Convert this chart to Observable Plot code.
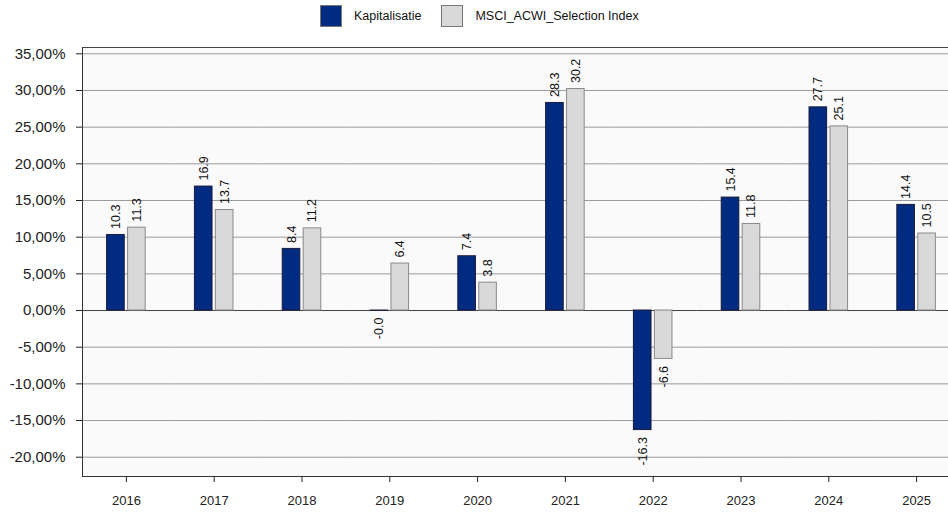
<!DOCTYPE html>
<html>
<head>
<meta charset="utf-8">
<script src="https://cdn.jsdelivr.net/npm/d3@7"></script>
<script src="https://cdn.jsdelivr.net/npm/@observablehq/plot@0.6"></script>
<style>
  html, body { margin: 0; padding: 0; background: #fff; overflow: hidden; width: 948px; height: 513px; }
  #wrap { position: relative; width: 948px; height: 513px; overflow: hidden; }
  #legend { position: absolute; top: 5px; left: 320px; display: flex; align-items: center;
    font-family: "Liberation Sans", Arial, sans-serif; font-size: 12.5px; color: #111; }
  .sw { width: 22px; height: 22px; box-sizing: border-box; border: 1px solid #777; display: inline-block; margin-right: 12px; }
  .item { display: flex; align-items: center; margin-right: 20px; }
  #chart { position: absolute; top: 0; left: 0; width: 960px; }
  #chart svg { max-width: none !important; width: 960px !important; height: 513px !important; }
</style>
</head>
<body>
<div id="wrap">
  <div id="chart"></div>
  <div id="legend"></div>
</div>
<script>
const years = [2016, 2017, 2018, 2019, 2020, 2021, 2022, 2023, 2024, 2025];
const seriesNames = ["Kapitalisatie", "MSCI_ACWI_Selection Index"];
const kapitalisatie = [10.3, 16.9, 8.4, -0.02, 7.4, 28.3, -16.3, 15.4, 27.7, 14.4];
const msci = [11.3, 13.7, 11.2, 6.4, 3.8, 30.2, -6.6, 11.8, 25.1, 10.5];
const yTicks = [-20, -15, -10, -5, 0, 5, 10, 15, 20, 25, 30, 35];
const colors = ["#002b80", "#d9d9d9"];

const data = [];
years.forEach((yr, i) => {
  data.push({year: yr, series: seriesNames[0], value: kapitalisatie[i]});
  data.push({year: yr, series: seriesNames[1], value: msci[i]});
});

const fmtTick = d => d.toFixed(2).replace(".", ",") + "%";
const font = "'Liberation Sans', Arial, sans-serif";

const chart = Plot.plot({
  width: 960,
  height: 513,
  marginLeft: 82,
  marginRight: 0,
  marginTop: 47,
  marginBottom: 37,
  style: {fontFamily: font, background: "transparent", color: "#222", maxWidth: "none"},
  fx: {domain: years, padding: 0, round: false, label: null},
  x: {domain: seriesNames, paddingInner: 0.16, paddingOuter: 1.175, round: false, axis: null},
  y: {domain: [-22.63, 35.86], label: null},
  color: {domain: seriesNames, range: colors},
  marks: [
    Plot.frame({fill: "#fafafa", stroke: null}),
    Plot.ruleY(yTicks, {stroke: "#9a9a9a", strokeWidth: 1}),
    Plot.ruleY([0], {stroke: "#444", strokeWidth: 1}),
    Plot.frame({anchor: "top", stroke: "#444"}),
    Plot.frame({anchor: "bottom", stroke: "#333"}),
    Plot.frame({anchor: "left", stroke: "#333", facetAnchor: "left"}),
    Plot.barY(data, {fx: "year", x: "series", y: "value", fill: "series", stroke: d => d.series === seriesNames[0] ? "#1a1a3a" : "#8a8a8a", strokeWidth: 1}),
    Plot.text(data.filter(d => d.value >= 0), {fx: "year", x: "series", y: "value", text: d => d.value.toFixed(1), rotate: -90, textAnchor: "start", dy: -6, fontSize: 12.5, fill: "#111"}),
    Plot.text(data.filter(d => d.value < 0), {fx: "year", x: "series", y: "value", text: d => d.value.toFixed(1), rotate: -90, textAnchor: "end", dy: 7, fontSize: 12.5, fill: "#111"}),
    Plot.axisY({ticks: yTicks, tickFormat: fmtTick, tickSize: 6, tickPadding: 11, fontSize: 15, label: null, anchor: "left"}),
    Plot.axisFx({anchor: "bottom", tickSize: 6, tickPadding: 13, fontSize: 13, label: null, tickFormat: d => String(d)})
  ]
});
document.getElementById("chart").appendChild(chart);

const legend = document.getElementById("legend");
seriesNames.forEach((name, i) => {
  const item = document.createElement("div");
  item.className = "item";
  const sw = document.createElement("span");
  sw.className = "sw";
  sw.style.background = colors[i];
  item.appendChild(sw);
  const t = document.createElement("span");
  t.textContent = name;
  item.appendChild(t);
  legend.appendChild(item);
});
</script>
</body>
</html>
